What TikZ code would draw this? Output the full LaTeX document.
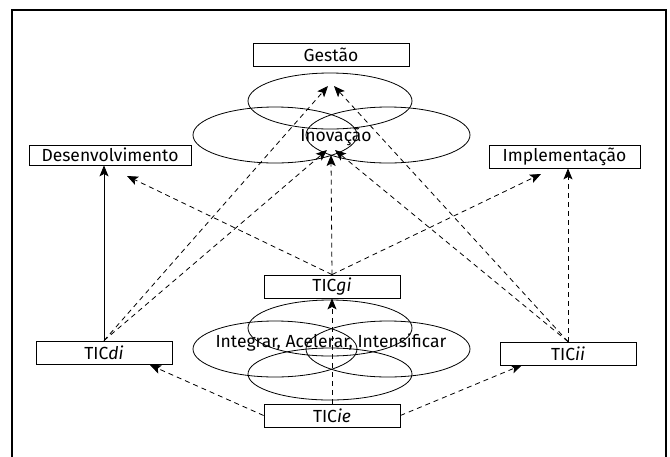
\documentclass[tikz,border=0pt]{standalone}
\usepackage{fontspec}
\setmainfont{Fira Sans}
\usetikzlibrary{arrows.meta}
\begin{document}
\begin{tikzpicture}[x=1pt,y=-1pt,
  font=\fontsize{17.5}{20}\selectfont,
  box/.style={draw, line width=0.8pt, inner sep=0pt, minimum height=23pt},
  ring/.style={draw, line width=0.8pt},
  tip/.style={-{Stealth[length=11pt,width=9pt,inset=2.5pt]}},
  solidlink/.style={tip, line width=0.8pt},
  dashlink/.style={tip, line width=0.8pt, dash pattern=on 5pt off 4pt}]
\clip (0,0) rectangle (670,456);
\fill[white] (0,0) rectangle (670,456);
% outer frame, open at the bottom
\draw[line width=1.4pt] (12,470) -- (12,10) -- (666,10) -- (666,470);

% upper cluster of rings
\draw[ring] (330,101) ellipse [x radius=82pt, y radius=28pt];
\draw[ring] (275,135) ellipse [x radius=82pt, y radius=28pt];
\draw[ring] (388,135) ellipse [x radius=82pt, y radius=28pt];
\node[inner sep=0pt] (inov) at (336,137) {Inovação};

% lower cluster of rings
\draw[ring] (330,328) ellipse [x radius=82pt, y radius=28pt];
\draw[ring] (275,349) ellipse [x radius=82pt, y radius=28pt];
\draw[ring] (388,349) ellipse [x radius=82pt, y radius=28pt];
\draw[ring] (330,374) ellipse [x radius=82pt, y radius=26pt];
\node[inner sep=0pt] (iai) at (331,343) {Integrar, Acelerar, Intensificar};

% boxes
\node[box, minimum width=156pt] (gest) at (331,54.5) {Gestão};
\node[box, minimum width=162pt, minimum height=20pt] (desen) at (110,155) {Desenvolvimento};
\node[box, minimum width=151pt] (impl) at (564.5,156.5) {Implementação};
\node[box, minimum width=136pt] (gi) at (332,286.5) {TIC\textit{gi}};
\node[box, minimum width=136pt] (ie) at (332,415.5) {TIC\textit{ie}};
\node[box, minimum width=136pt] (di) at (104,352.5) {TIC\textit{di}};
\node[box, minimum width=136pt] (ii) at (568,353.5) {TIC\textit{ii}};

% arrow targets inside the rings and below the boxes
\coordinate (gL) at (328,86);
\coordinate (gR) at (334,86);
\coordinate (iL) at (327,150);
\coordinate (iV) at (331,155);
\coordinate (iR) at (335,150);
\coordinate (dT) at (127,176);
\coordinate (pT) at (541,174);
\coordinate (dB) at (150,365);
\coordinate (pB) at (522,365);

% connectors
\draw[solidlink] (di.north) -- (desen.south -| di.north);
\draw[dashlink] (di.north) -- (gL);
\draw[dashlink] (di.north) -- (iL);
\draw[dashlink] (ii.north) -- (gR);
\draw[dashlink] (ii.north) -- (iR);
\draw[dashlink] (ii.north) -- (impl.south -| ii.north);
\draw[dashlink] (gi.north) -- (iV);
\draw[dashlink] (gi.north) -- (dT);
\draw[dashlink] (gi.north) -- (pT);
\draw[dashlink] (ie.north) -- (gi.south);
\draw[dashlink] (ie.west) -- (dB);
\draw[dashlink] (ie.east) -- (pB);
\end{tikzpicture}
\end{document}
